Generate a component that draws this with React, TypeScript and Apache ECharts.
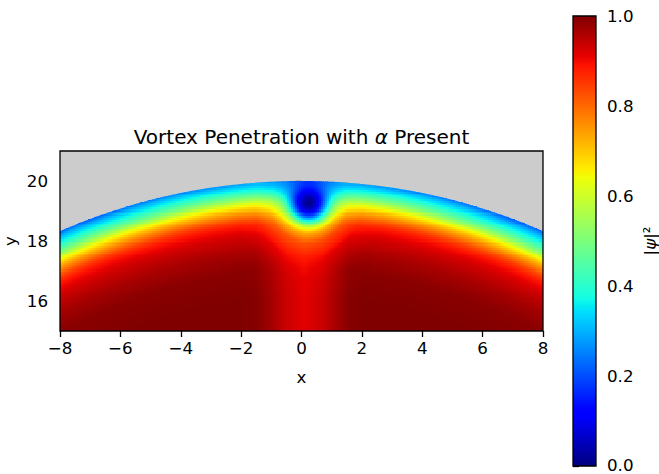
import React, { useEffect, useRef } from "react";
import * as echarts from "echarts";

// Domain of the plot
const X_RANGE = [-8, 8];
const Y_RANGE = [15, 21];
const RADIUS = 20;
const X_TICKS = [-8, -6, -4, -2, 0, 2, 4, 6, 8];
const Y_TICKS = [16, 18, 20];
const CBAR_TICKS = [0, 0.2, 0.4, 0.6, 0.8, 1.0];

// |psi|^2 versus depth below the boundary (r = 20)
const EDGE_DEPTH = [0, 0.15, 0.35, 0.55, 0.7, 0.82, 1.0, 1.15, 1.35, 1.55, 1.9, 2.4, 3.0, 4.0];
const EDGE_VALUE = [0.22, 0.3, 0.38, 0.47, 0.55, 0.625, 0.71, 0.77, 0.84, 0.89, 0.93, 0.965, 0.99, 1.0];

// extra effective depth along x (surface layer is a little stronger near the top)
const SHIFT_X = [-8, -5, -3, -1.5, 0, 1.5, 3, 5, 8];
const SHIFT_D = [0, 0.04, 0.1, 0.15, 0.15, 0.15, 0.1, 0.04, 0];

// vortex core
const VORTEX_CENTER = [0.25, 19.27];
const VORTEX_R = [0, 0.2, 0.4, 0.6, 0.8, 1.0, 1.3, 1.8, 2.5];
const VORTEX_F = [0, 0.08, 0.25, 0.5, 0.72, 0.85, 0.94, 0.985, 1];

// depleted channel below the vortex
const STRIPE_X = [-2, -1.5, -1, -0.5, 0.1, 0.7, 1.2, 1.6, 2.1];
const STRIPE_F = [1, 0.995, 0.97, 0.935, 0.915, 0.935, 0.97, 0.995, 1];

// sampling of the field
const NX = 240;
const NY = 90;
const DX = (X_RANGE[1] - X_RANGE[0]) / NX;
const DY = (Y_RANGE[1] - Y_RANGE[0]) / NY;

// layout
const GRID = { left: 60, top: 151, width: 483, height: 180 };
const CBAR = { left: 573, top: 16, width: 23, height: 450 };
const FONT = "DejaVu Sans";
const TICK_FONT = 16.7;
const TITLE_FONT = 20;

function interp(v: number, xs: number[], ys: number[]): number {
  if (v <= xs[0]) return ys[0];
  for (let i = 1; i < xs.length; i++) {
    if (v <= xs[i]) {
      const t = (v - xs[i - 1]) / (xs[i] - xs[i - 1]);
      return ys[i - 1] + t * (ys[i] - ys[i - 1]);
    }
  }
  return ys[ys.length - 1];
}

function jet(v: number): string {
  const r = interp(v, [0, 0.35, 0.66, 0.89, 1], [0, 0, 1, 1, 0.5]);
  const g = interp(v, [0, 0.125, 0.375, 0.64, 0.91, 1], [0, 0, 1, 1, 0, 0]);
  const b = interp(v, [0, 0.11, 0.34, 0.65, 1], [0.5, 1, 1, 0, 0]);
  return `rgb(${Math.round(r * 255)},${Math.round(g * 255)},${Math.round(b * 255)})`;
}

// height of the boundary circle above a given x
const rim = (x: number) => Math.sqrt(RADIUS * RADIUS - x * x);

function buildField(): number[][] {
  const out: number[][] = [];
  for (let i = 0; i < NX; i++) {
    const x = X_RANGE[0] + (i + 0.5) * DX;
    const top = Math.max(rim(x - DX / 2), rim(x + DX / 2));
    for (let j = 0; j < NY; j++) {
      const y = Y_RANGE[0] + (j + 0.5) * DY;
      if (y - DY / 2 >= top) continue;
      const r = Math.sqrt(x * x + y * y);
      const depth = Math.max(0, RADIUS - r) + interp(x, SHIFT_X, SHIFT_D);
      const edge = interp(depth, EDGE_DEPTH, EDGE_VALUE);
      const rv = Math.hypot(x - VORTEX_CENTER[0], y - VORTEX_CENTER[1]);
      const core = interp(rv, VORTEX_R, VORTEX_F);
      const channel = interp(x, STRIPE_X, STRIPE_F);
      out.push([x, y, edge * core * channel]);
    }
  }
  return out;
}

const fmtMinus = (v: number) => (v < 0 ? "\u2212" + Math.abs(v) : String(v));

export default function App() {
  const ref = useRef<HTMLDivElement>(null);

  useEffect(() => {
    if (!ref.current) return;
    const chart = echarts.init(ref.current, null, { renderer: "svg" });
    const field = buildField();
    const stops = [];
    for (let k = 0; k <= 100; k++) stops.push({ offset: k / 100, color: jet(k / 100) });

    const axisText = { color: "#000", fontSize: TICK_FONT, fontFamily: FONT };
    const tick = { show: true, length: 6, lineStyle: { color: "#000", width: 1.3 } };

    chart.setOption({
      animation: false,
      backgroundColor: "#fff",
      grid: [
        { ...GRID, show: true, backgroundColor: "#cccccc", borderWidth: 0, outerBoundsMode: "none", containLabel: false },
        { ...CBAR, show: false, outerBoundsMode: "none", containLabel: false },
      ],
      xAxis: [
        {
          type: "value",
          gridIndex: 0,
          min: X_RANGE[0],
          max: X_RANGE[1],
          interval: 2,
          axisLine: { show: false },
          axisTick: { ...tick, customValues: X_TICKS },
          axisLabel: { ...axisText, margin: 8, formatter: fmtMinus, customValues: X_TICKS },
          splitLine: { show: false },
          name: "x",
          nameLocation: "middle",
          nameGap: 37,
          nameTextStyle: axisText,
        },
        { type: "value", gridIndex: 1, min: 0, max: 1, show: false },
      ],
      yAxis: [
        {
          type: "value",
          gridIndex: 0,
          min: Y_RANGE[0],
          max: Y_RANGE[1],
          axisLine: { show: false },
          axisTick: { ...tick, customValues: Y_TICKS },
          axisLabel: { ...axisText, margin: 12, customValues: Y_TICKS },
          splitLine: { show: false },
        },
        {
          type: "value",
          gridIndex: 1,
          min: 0,
          max: 1,
          interval: 0.2,
          position: "right",
          axisLine: { show: false },
          axisTick: { ...tick, customValues: CBAR_TICKS },
          axisLabel: {
            ...axisText,
            margin: 11,
            formatter: (v: number) => (v === 0 ? "{z|0.0}" : v.toFixed(1)),
            customValues: CBAR_TICKS,
            rich: {
              z: { fontSize: TICK_FONT, fontFamily: FONT, color: "#000", lineHeight: 14, padding: [0, 0, 3, 0] },
            },
          },
          splitLine: { show: false },
          name: "{b||}{p|\u03C8}{b||\u00B2}",
          nameLocation: "middle",
          nameRotate: 90,
          nameGap: 45,
          nameTextStyle: {
            ...axisText,
            rich: {
              b: { fontSize: TICK_FONT, fontFamily: FONT, color: "#000" },
              p: { fontSize: TICK_FONT, fontFamily: FONT, color: "#000", fontStyle: "italic" },
            },
          },
        },
      ],
      graphic: [
        {
          type: "text",
          x: GRID.left + GRID.width / 2,
          y: GRID.top - 14,
          z: 100,
          style: {
            text: "{n|Vortex Penetration with }{a|\u03B1}{n| Present}",
            textAlign: "center",
            textVerticalAlign: "middle",
            rich: {
              n: { fontSize: TITLE_FONT, fontFamily: FONT, fill: "#000" },
              a: { fontSize: TITLE_FONT, fontFamily: FONT, fill: "#000", fontStyle: "italic" },
            },
          },
        },
        {
          // y axis title
          type: "text",
          x: 10,
          y: GRID.top + GRID.height / 2,
          rotation: Math.PI / 2,
          z: 100,
          style: {
            text: "y",
            fontSize: TICK_FONT,
            fontFamily: FONT,
            fill: "#000",
            textAlign: "center",
            textVerticalAlign: "middle",
          },
        },
        {
          type: "rect",
          z: 100,
          shape: { x: GRID.left, y: GRID.top, width: GRID.width, height: GRID.height },
          style: { fill: "none", stroke: "#000", lineWidth: 1.3 },
          silent: true,
        },
      ],
      series: [
        {
          type: "custom",
          xAxisIndex: 0,
          yAxisIndex: 0,
          data: field,
          clip: true,
          silent: true,
          progressive: 0,
          renderItem: (params: any, api: any) => {
            const x = api.value(0);
            const y = api.value(1);
            const x0 = x - DX / 2;
            const x1 = x + DX / 2;
            const yb = y - DY / 2;
            const yt = y + DY / 2;
            const color = jet(api.value(2));
            const r0 = rim(x0);
            const r1 = rim(x1);
            if (yt <= r0 && yt <= r1) {
              const p0 = api.coord([x0, yt]);
              const p1 = api.coord([x1, yb]);
              const left = Math.floor(p0[0]);
              const top = Math.floor(p0[1]);
              return {
                type: "rect",
                shape: { x: left, y: top, width: Math.ceil(p1[0]) - left, height: Math.ceil(p1[1]) - top },
                style: { fill: color },
              };
            }
            // cell cut by the boundary circle
            const a = api.coord([x0, yb]);
            const b = api.coord([x1, yb]);
            const c = api.coord([x1, Math.max(yb, Math.min(yt, r1))]);
            const d = api.coord([x0, Math.max(yb, Math.min(yt, r0))]);
            const left = Math.floor(a[0]);
            const right = Math.ceil(b[0]);
            const bottom = Math.ceil(a[1]);
            return {
              type: "polygon",
              shape: {
                points: [
                  [left, bottom],
                  [right, bottom],
                  [right, c[1]],
                  [left, d[1]],
                ],
              },
              style: { fill: color },
            };
          },
        },
        {
          type: "custom",
          xAxisIndex: 1,
          yAxisIndex: 1,
          data: [[0, 0]],
          silent: true,
          renderItem: (params: any, api: any) => {
            const p0 = api.coord([0, 1]);
            const p1 = api.coord([1, 0]);
            return {
              type: "rect",
              shape: { x: p0[0], y: p0[1], width: p1[0] - p0[0], height: p1[1] - p0[1] },
              style: {
                fill: new echarts.graphic.LinearGradient(0, 1, 0, 0, stops),
                stroke: "#000",
                lineWidth: 1.3,
              },
            };
          },
        },
      ],
    });
    return () => chart.dispose();
  }, []);

  return (
    <div
      ref={ref}
      style={{ position: "fixed", left: 0, top: 0, width: 659, height: 474, background: "#fff" }}
    />
  );
}
